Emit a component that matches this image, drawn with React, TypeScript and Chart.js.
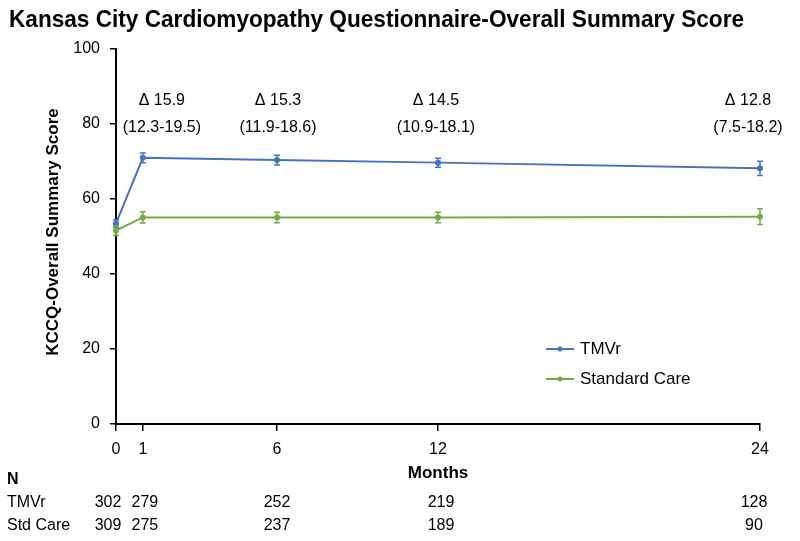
import React, { useEffect, useRef } from 'react';
import { Chart, registerables } from 'chart.js';

Chart.register(...registerables);

// ---- Data ----
const months = [0, 1, 6, 12, 24];
const tmvrScores = [53.5, 71.0, 70.4, 69.7, 68.2];
const tmvrErrors = [1.0, 1.3, 1.3, 1.2, 1.9];
const stdScores = [51.6, 55.1, 55.1, 55.1, 55.3];
const stdErrors = [1.3, 1.5, 1.4, 1.4, 2.1];
const seriesNames = ['TMVr', 'Standard Care'];

const deltaMonths = [1, 6, 12, 24];
const deltaLabels = ['Δ 15.9', 'Δ 15.3', 'Δ 14.5', 'Δ 12.8'];
const deltaRanges = ['(12.3-19.5)', '(11.9-18.6)', '(10.9-18.1)', '(7.5-18.2)'];

const nRowLabels = ['TMVr', 'Std Care'];
const nTmvr = [302, 279, 252, 219, 128];
const nStd = [309, 275, 237, 189, 90];

const chartTitle = 'Kansas City Cardiomyopathy Questionnaire-Overall Summary Score';
const yTitle = 'KCCQ-Overall Summary Score';
const xTitle = 'Months';

// ---- Style ----
const BLUE = '#4472C4';
const GREEN = '#70AD47';
const FONT = "'Liberation Sans', Arial, sans-serif";
const annotationShift = [19, 1, -2, -12];
const nShift = [-8, 2, 0, 3, -6];

const errorBarPlugin = {
  id: 'errorBars',
  afterDatasetsDraw(chart: any) {
    const { ctx, scales } = chart;
    const xs = scales.x;
    const ys = scales.y;
    const sets = [
      { vals: tmvrScores, errs: tmvrErrors, color: BLUE },
      { vals: stdScores, errs: stdErrors, color: GREEN },
    ];
    ctx.save();
    ctx.lineWidth = 1.5;
    sets.forEach((s) => {
      ctx.strokeStyle = s.color;
      s.vals.forEach((v, i) => {
        const px = xs.getPixelForValue(months[i]);
        const top = ys.getPixelForValue(v + s.errs[i]);
        const bot = ys.getPixelForValue(v - s.errs[i]);
        ctx.beginPath();
        ctx.moveTo(px, top);
        ctx.lineTo(px, bot);
        ctx.moveTo(px - 3, top);
        ctx.lineTo(px + 3, top);
        ctx.moveTo(px - 3, bot);
        ctx.lineTo(px + 3, bot);
        ctx.stroke();
      });
    });
    ctx.restore();
  },
};

const textPlugin = {
  id: 'kccqText',
  afterDraw(chart: any) {
    const { ctx, scales } = chart;
    const xs = scales.x;
    ctx.save();
    ctx.fillStyle = '#000';

    // Title
    ctx.font = `bold 24px ${FONT}`;
    ctx.textAlign = 'left';
    ctx.textBaseline = 'middle';
    ctx.fillText(chartTitle, 9, 20, 735);

    // Y title
    ctx.save();
    ctx.translate(53, 232);
    ctx.rotate(-Math.PI / 2);
    ctx.font = `bold 17px ${FONT}`;
    ctx.textAlign = 'center';
    ctx.fillText(yTitle, 0, 0, 250);
    ctx.restore();

    // X title
    ctx.font = `bold 17px ${FONT}`;
    ctx.textAlign = 'center';
    ctx.fillText(xTitle, xs.getPixelForValue(12), 473);

    // Annotations
    ctx.font = `16px ${FONT}`;
    deltaMonths.forEach((m, i) => {
      const cx = xs.getPixelForValue(m) + annotationShift[i];
      ctx.fillText(deltaLabels[i], cx, 101);
      ctx.fillText(deltaRanges[i], cx, 128);
    });

    // Legend
    const legendColors = [BLUE, GREEN];
    const legendY = [349, 379];
    seriesNames.forEach((name, i) => {
      ctx.strokeStyle = legendColors[i];
      ctx.lineWidth = 2;
      ctx.beginPath();
      ctx.moveTo(546, legendY[i]);
      ctx.lineTo(574, legendY[i]);
      ctx.stroke();
      ctx.fillStyle = legendColors[i];
      ctx.beginPath();
      ctx.arc(560, legendY[i], 2.5, 0, Math.PI * 2);
      ctx.fill();
      ctx.fillStyle = '#000';
      ctx.font = `17px ${FONT}`;
      ctx.textAlign = 'left';
      ctx.fillText(name, 580, legendY[i]);
    });

    // N table
    ctx.textAlign = 'left';
    ctx.font = `bold 16px ${FONT}`;
    ctx.fillText('N', 7, 480);
    ctx.font = `16px ${FONT}`;
    ctx.fillText(nRowLabels[0], 7, 503);
    ctx.fillText(nRowLabels[1], 7, 526);
    ctx.textAlign = 'center';
    months.forEach((m, i) => {
      const cx = xs.getPixelForValue(m) + nShift[i];
      ctx.fillText(String(nTmvr[i]), cx, 503);
      ctx.fillText(String(nStd[i]), cx, 526);
    });

    ctx.restore();
  },
};

export default function App() {
  const canvasRef = useRef<HTMLCanvasElement | null>(null);

  useEffect(() => {
    const canvas = canvasRef.current;
    if (!canvas) return;
    const chart = new Chart(canvas, {
      type: 'line',
      data: {
        datasets: [
          {
            label: seriesNames[0],
            data: months.map((m, i) => ({ x: m, y: tmvrScores[i] })),
            borderColor: BLUE,
            backgroundColor: BLUE,
            borderWidth: 2,
            pointRadius: 3,
            pointBorderWidth: 0,
            tension: 0,
            clip: false as any,
          },
          {
            label: seriesNames[1],
            data: months.map((m, i) => ({ x: m, y: stdScores[i] })),
            borderColor: GREEN,
            backgroundColor: GREEN,
            borderWidth: 2,
            pointRadius: 3,
            pointBorderWidth: 0,
            tension: 0,
            clip: false as any,
          },
        ],
      },
      options: {
        animation: false,
        responsive: false,
        devicePixelRatio: 1,
        layout: { padding: { top: 49, right: 40, left: 0, bottom: 0 } },
        plugins: {
          legend: { display: false },
          title: { display: false },
          tooltip: { enabled: false },
        },
        scales: {
          x: {
            type: 'linear',
            min: 0,
            max: 24,
            afterBuildTicks: (scale: any) => {
              scale.ticks = months.map((v) => ({ value: v }));
            },
            afterFit: (scale: any) => {
              scale.height = 117;
            },
            grid: {
              drawOnChartArea: false,
              drawTicks: true,
              tickLength: 7,
              color: '#000',
              lineWidth: 1.5,
            },
            border: { display: true, color: '#000', width: 2 },
            ticks: {
              color: '#000',
              font: { family: FONT, size: 16 },
              padding: 9,
              maxRotation: 0,
              autoSkip: false,
            },
          },
          y: {
            type: 'linear',
            min: 0,
            max: 100,
            afterFit: (scale: any) => {
              scale.width = 116;
            },
            grid: {
              drawOnChartArea: false,
              drawTicks: true,
              tickLength: 6,
              color: '#000',
              lineWidth: 1.5,
            },
            border: { display: true, color: '#000', width: 2 },
            ticks: {
              stepSize: 20,
              color: '#000',
              font: { family: FONT, size: 16 },
              padding: 10,
            },
          },
        },
      },
      plugins: [errorBarPlugin, textPlugin],
    });
    return () => chart.destroy();
  }, []);

  return (
    <div style={{ position: 'absolute', left: 0, top: 0, width: 800, height: 541, background: '#fff' }}>
      <canvas ref={canvasRef} width={800} height={541} style={{ width: 800, height: 541 }} />
    </div>
  );
}
